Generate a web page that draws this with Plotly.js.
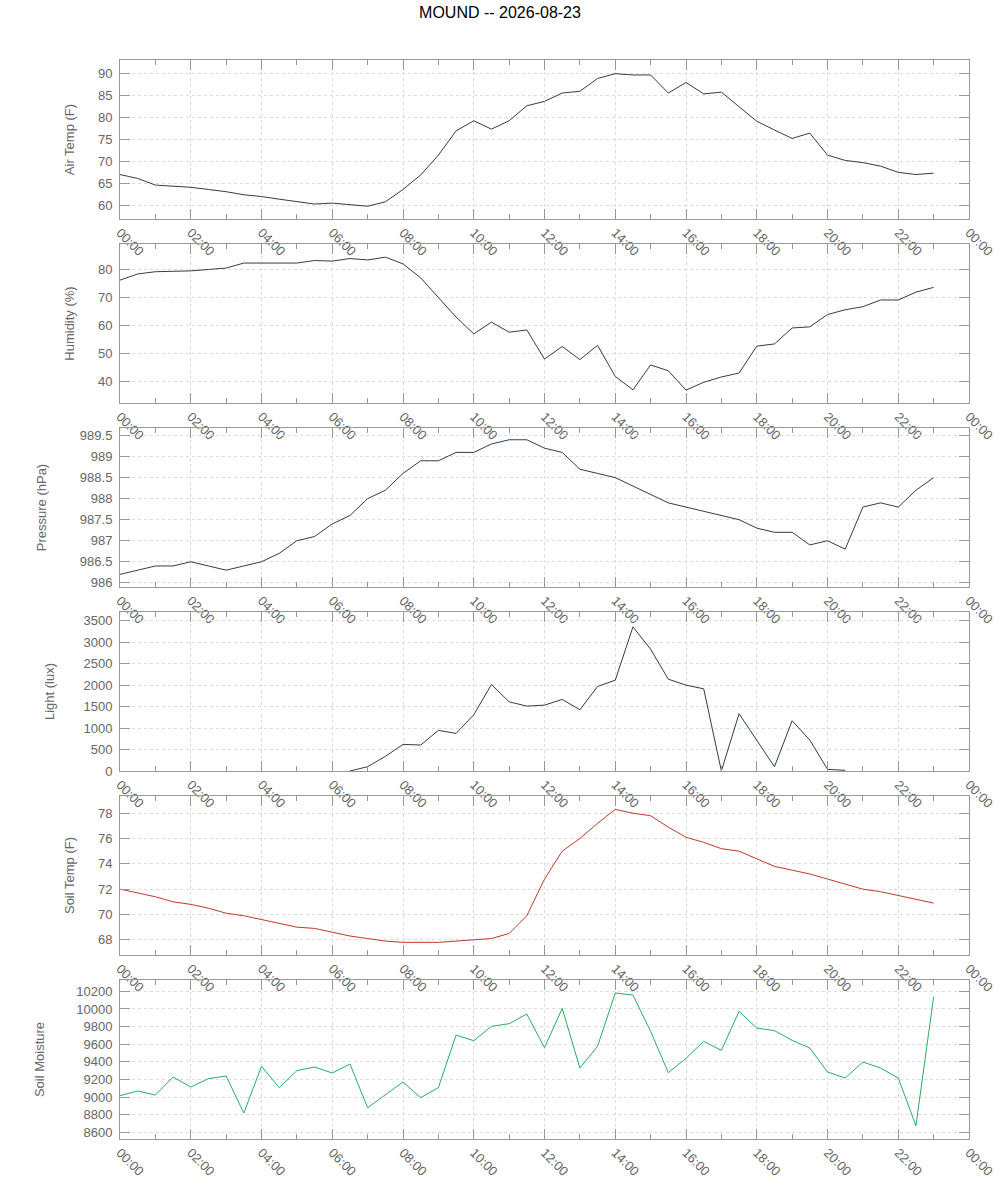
<!DOCTYPE html>
<html><head><meta charset="utf-8">
<script src="https://cdn.plot.ly/plotly-3.0.1.min.js"></script>
<style>body{margin:0;background:#fff}#chart{width:1000px;height:1200px}</style>
</head><body><div id="chart"></div>
<script>
const chartTitle = "MOUND -- 2026-08-23";
const day = "2026-08-23";
const nextDay = "2026-08-24";
const times = ["00:00","00:30","01:00","01:30","02:00","02:30","03:00","03:30","04:00","04:30",
  "05:00","05:30","06:00","06:30","07:00","07:30","08:00","08:30","09:00","09:30",
  "10:00","10:30","11:00","11:30","12:00","12:30","13:00","13:30","14:00","14:30",
  "15:00","15:30","16:00","16:30","17:00","17:30","18:00","18:30","19:00","19:30",
  "20:00","20:30","21:00","21:30","22:00","22:30","23:00"];

const airTemp = [67.0,66.1,64.6,64.3,64.1,63.6,63.1,62.4,62.0,61.4,
  60.8,60.3,60.5,60.1,59.8,60.8,63.6,66.9,71.4,76.9,
  79.2,77.3,79.2,82.6,83.6,85.5,85.9,88.8,89.9,89.6,
  89.6,85.5,87.9,85.3,85.7,82.4,79.1,77.1,75.2,76.4,
  71.4,70.2,69.7,68.9,67.5,67.0,67.3];

const humidity = [76.3,78.5,79.3,79.5,79.6,80.1,80.6,82.4,82.4,82.4,
  82.4,83.3,83.1,84.0,83.5,84.5,82.1,77.1,69.9,63.1,
  57.1,61.3,57.7,58.5,48.1,52.6,47.9,53.0,41.9,37.1,
  46.0,43.9,37.0,39.8,41.7,43.1,52.7,53.5,59.2,59.6,
  64.0,65.7,66.8,69.2,69.2,72.0,73.7];

const pressure = [986.2,986.3,986.4,986.4,986.5,986.4,986.3,986.4,986.5,986.7,
  987.0,987.1,987.4,987.6,988.0,988.2,988.6,988.9,988.9,989.1,
  989.1,989.3,989.4,989.4,989.2,989.1,988.7,988.6,988.5,988.3,
  988.1,987.9,987.8,987.7,987.6,987.5,987.3,987.2,987.2,986.9,
  987.0,986.8,987.8,987.9,987.8,988.2,988.5];

const light = [null,null,null,null,null,null,null,null,null,null,
  null,null,null,0,100,340,620,604,945,875,
  1309,2013,1610,1510,1533,1665,1425,1967,2114,3353,
  2834,2137,1998,1913,0,1332,705,100,1169,720,
  39,15,null,null,null,null,null];

const soilTemp = [72.0,71.7,71.4,71.0,70.8,70.5,70.1,69.9,69.6,69.3,
  69.0,68.9,68.6,68.3,68.1,67.9,67.8,67.8,67.8,67.9,
  68.0,68.1,68.5,69.9,72.8,75.0,76.0,77.2,78.3,78.0,
  77.8,76.9,76.1,75.7,75.2,75.0,74.4,73.8,73.5,73.2,
  72.8,72.4,72.0,71.8,71.5,71.2,70.9];

const soilMoisture = [9016,9069,9023,9228,9114,9209,9239,8819,9349,9107,
  9300,9341,9273,9375,8880,9023,9171,8993,9107,9704,
  9640,9803,9833,9943,9561,10007,9330,9576,10181,10158,
  9746,9277,9440,9633,9530,9973,9784,9754,9644,9557,
  9285,9216,9398,9330,9216,8675,10139];

const panelTitles = ["Air Temp (F)","Humidity (%)","Pressure (hPa)","Light (lux)","Soil Temp (F)","Soil Moisture"];
const panelData = [airTemp, humidity, pressure, light, soilTemp, soilMoisture];
const panelColors = ["#2c3e50","#2c3e50","#2c3e50","#2c3e50","#c0392b","#27ae60"];
const panelRanges = [[56.9,93.0],[32.4,89.2],[985.9,989.68],[0,3700],[66.8,79.36],[8524,10329]];
const panelDticks = [5,10,0.5,500,2,200];
const panelTick0 = [60,40,986,0,68,8600];
const panelStandoff = [20,20,30,25,20,28];

const xs = times.map(t => day + " " + t);

const W = 1000, H = 1200, mt = 60, mb = 61, panelH = 159, panelStep = 184;
const plotH = H - mt - mb;
const tickFont = {family: "Liberation Sans, Arial, sans-serif", size: 13, color: "#666"};

const traces = [];
const layout = {
  width: W, height: H,
  margin: {l: 120, r: 31, t: mt, b: mb},
  paper_bgcolor: "#fff", plot_bgcolor: "#fff",
  showlegend: false,
  font: {family: "Liberation Sans, Arial, sans-serif", color: "#666", size: 13},
  title: {text: chartTitle, x: 0.5, xref: "container", xanchor: "center",
          y: 1 - 12 / H, yref: "container", yanchor: "middle",
          font: {size: 16, color: "#000", family: "Liberation Sans, Arial, sans-serif"}}
};

panelData.forEach((vals, i) => {
  const n = i === 0 ? "" : String(i + 1);
  traces.push({
    x: xs, y: vals, type: "scatter", mode: "lines",
    line: {color: panelColors[i], width: 1},
    xaxis: "x" + n, yaxis: "y" + n, connectgaps: false, hoverinfo: "x+y"
  });
  const top = mt + i * panelStep;
  const bot = top + panelH;
  layout["xaxis" + n] = {
    anchor: "y" + n,
    type: "date",
    range: [day + " 00:00", nextDay + " 00:00"],
    tick0: day + " 00:00", dtick: 7200000,
    tickformat: "%H:%M", tickangle: 45,
    ticks: "inside", ticklen: 10, tickcolor: "#999", tickwidth: 1,
    minor: {dtick: 3600000, ticks: "inside", ticklen: 5, tickcolor: "#999", showgrid: false},
    showline: true, linecolor: "#999", linewidth: 1, mirror: "allticks",
    showgrid: true, gridcolor: "#dcdcdc", griddash: "3px,3px", gridwidth: 1,
    zeroline: false, tickfont: tickFont, automargin: false
  };
  layout["yaxis" + n] = {
    anchor: "x" + n,
    domain: [(H - mb - bot) / plotH, (H - mb - top) / plotH],
    range: panelRanges[i],
    tick0: panelTick0[i], dtick: panelDticks[i],
    tickformat: i === 5 ? "d" : "",
    ticks: "inside", ticklen: 10, tickcolor: "#999", tickwidth: 1,
    ticklabelstandoff: 4,
    showline: true, linecolor: "#999", linewidth: 1, mirror: "allticks",
    showgrid: true, gridcolor: "#dcdcdc", griddash: "3px,3px", gridwidth: 1,
    zeroline: false, tickfont: tickFont, automargin: false,
    title: {text: panelTitles[i], standoff: panelStandoff[i],
            font: {size: 13, color: "#666", family: "Liberation Sans, Arial, sans-serif"}}
  };
});

Plotly.newPlot("chart", traces, layout, {staticPlot: true, displayModeBar: false});
</script>
</body></html>
